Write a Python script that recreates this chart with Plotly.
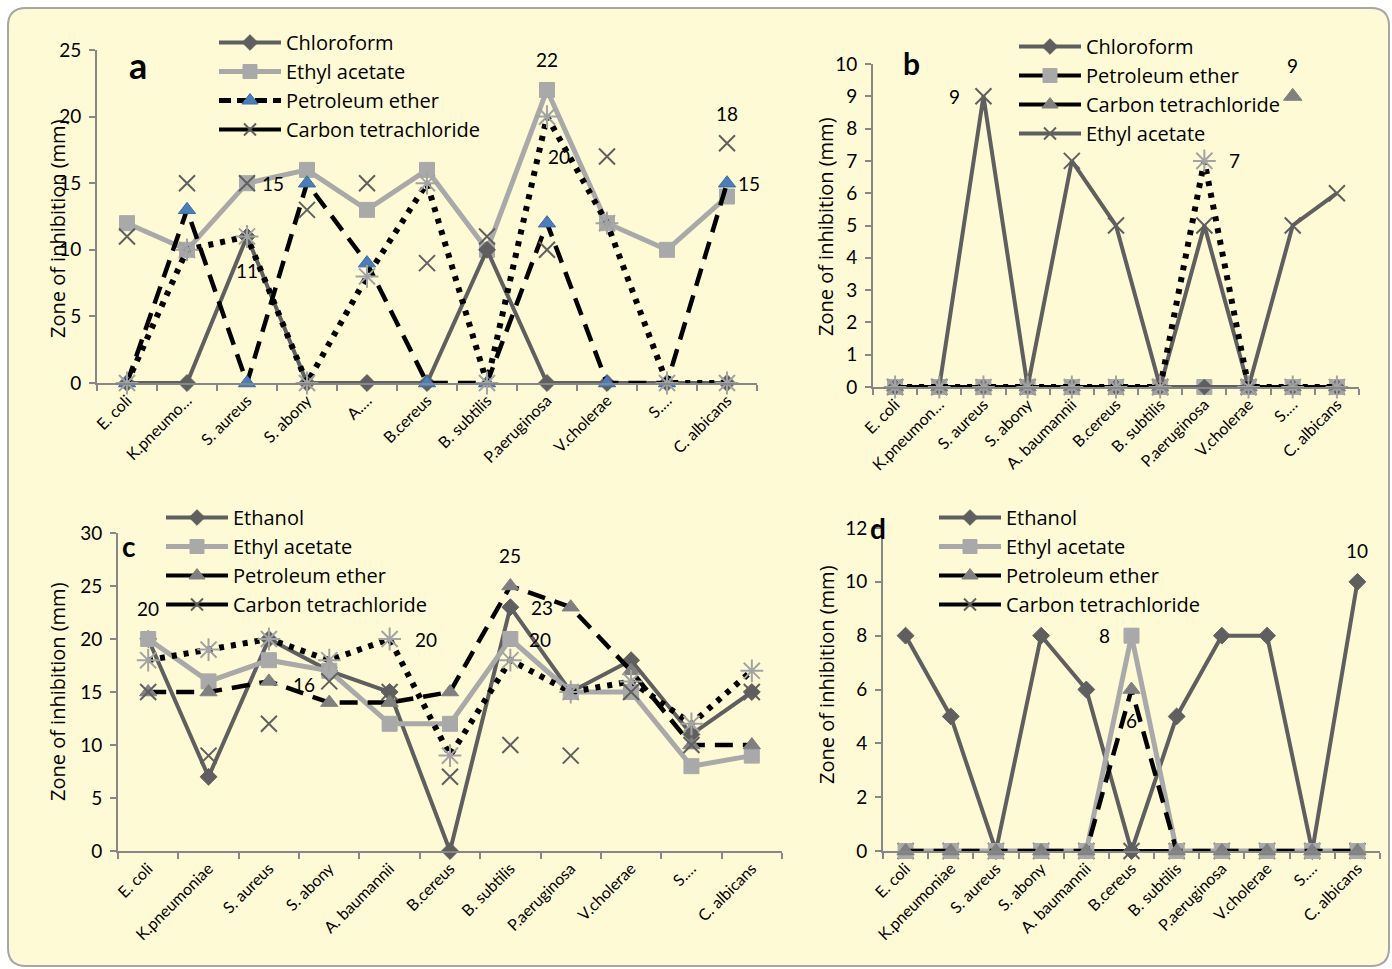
import plotly.graph_objects as go

W, H = 1392, 969
FONT = "Lato"
FONT2 = "Open Sans"

# ---------------- data ----------------
categories = ["E. coli", "K. pneumoniae", "S. aureus", "S. abony", "A. baumannii", "B. cereus",
              "B. subtilis", "P. aeruginosa", "V. cholerae", "S. …", "C. albicans"]
ticks_a = ["E. coli", "K.pneumo…", "S. aureus", "S. abony", "A.…", "B.cereus", "B. subtilis",
           "P.aeruginosa", "V.cholerae", "S.…", "C. albicans"]
ticks_b = ["E. coli", "K.pneumon…", "S. aureus", "S. abony", "A. baumannii", "B.cereus", "B. subtilis",
           "P.aeruginosa", "V.cholerae", "S.…", "C. albicans"]
ticks_cd = ["E. coli", "K.pneumoniae", "S. aureus", "S. abony", "A. baumannii", "B.cereus", "B. subtilis",
            "P.aeruginosa", "V.cholerae", "S.…", "C. albicans"]

# Panel a
a_chloroform = [0, 0, 11, 0, 0, 0, 10, 0, 0, 0, 0]
a_ethyl_acetate = [12, 10, 15, 16, 13, 16, 10, 22, 12, 10, 14]
a_petroleum_ether = [0, 13, 0, 15, 9, 0, 0, 12, 0, 0, 15]
a_carbon_tet = [0, 10, 11, 0, 8, 15, 0, 20, 12, 0, 0]
a_carbon_tet_x = [11, 15, 15, 13, 15, 9, 11, 10, 17, None, 18]

# Panel b
b_chloroform = [0, 0, 0, 0, 0, 0, 0, 0, 0, 0, 0]
b_petroleum_ether = [0, 0, 0, 0, 0, 0, 0, 0, 0, 0, 0]
b_carbon_tet = [0, 0, 0, 0, 0, 0, 0, None, 0, 0, 0]
b_ethyl_acetate = [0, 0, 9, 0, 7, 5, 0, 5, 0, 5, 6]
b_dotted = [0, 0, 0, 0, 0, 0, 0, 7, 0, 0, 0]
b_extra = [None, None, None, None, None, None, None, None, None, 9, None]

# Panel c
c_ethanol = [20, 7, 20, 17, 15, 0, 23, 15, 18, 11, 15]
c_ethyl_acetate = [20, 16, 18, 17, 12, 12, 20, 15, 15, 8, 9]
c_petroleum_ether = [15, 15, 16, 14, 14, 15, 25, 23, 17, 10, 10]
c_carbon_tet = [18, 19, 20, 18, 20, 9, 18, 15, 16, 12, 17]
c_carbon_tet_x = [15, 9, 12, 16, 15, 7, 10, 9, 15, 10, 15]

# Panel d
d_ethanol = [8, 5, 0, 8, 6, 0, 5, 8, 8, 0, 10]
d_ethyl_acetate = [0, 0, 0, 0, 0, 8, 0, 0, 0, 0, 0]
d_petroleum_ether = [0, 0, 0, 0, 0, 6, 0, 0, 0, 0, 0]
d_carbon_tet = [0, 0, 0, 0, 0, 0, 0, 0, 0, 0, 0]

# data labels: (category, value, text)
labels_a = [("S. aureus", 15, "15"), ("S. aureus", 11, "11"), ("P. aeruginosa", 22, "22"),
            ("P. aeruginosa", 20, "20"), ("C. albicans", 18, "18"), ("C. albicans", 15, "15")]
labels_b = [("S. aureus", 9, "9"), ("P. aeruginosa", 7, "7"), ("S. …", 9, "9")]
labels_c = [("E. coli", 20, "20"), ("S. aureus", 16, "16"), ("A. baumannii", 20, "20"),
            ("B. subtilis", 25, "25"), ("B. subtilis", 23, "23"), ("B. subtilis", 20, "20")]
labels_d = [("B. cereus", 8, "8"), ("B. cereus", 6, "6"), ("C. albicans", 10, "10")]

# label placements (pixel shifts)
place_a = [(26, 0), (0, -34), (0, 30), (12, -40), (0, 30), (22, 0)]
place_b = [(-29, 0), (30, 0), (0, 31)]
place_c = [(0, 31), (35, -3), (36, 0), (0, 31), (32, 0), (30, 0)]
place_d = [(-27, 0), (0, -31), (0, 31)]

# ---------------- styles ----------------
DARK = "#5f5f5f"
LIGHT = "#a9a9a9"
BLACK = "#000000"
BLUE = "#4a7ebb"
MID = "#808080"
AST = "#a3a3a3"
DASH = "18px,10px"
DOT = "5px,7px"


def px(x):
    return x / W


def py(y):
    return 1 - y / H


fig = go.Figure()


def trace(y, ax, color=None, width=4, dash="solid", symbol=None, msize=14, mcolor=None,
          mline=None, mlw=1, mode="lines+markers"):
    xa, ya = ax
    marker = dict(symbol=symbol, size=msize, color=mcolor,
                  line=dict(color=mline if mline else mcolor, width=mlw))
    fig.add_trace(go.Scatter(
        x=categories, y=y, xaxis=xa, yaxis=ya, mode=mode,
        line=dict(color=color, width=width, dash=dash) if "lines" in mode else None,
        marker=marker, showlegend=False, hoverinfo="skip", connectgaps=False, cliponaxis=False))


def legend_entry(name, ax, legend, color, width, dash, symbol, msize, mcolor, mline=None, mlw=1):
    xa, ya = ax
    fig.add_trace(go.Scatter(
        x=[None], y=[None], xaxis=xa, yaxis=ya, mode="lines+markers", name=name,
        line=dict(color=color, width=width, dash=dash),
        marker=dict(symbol=symbol, size=msize, color=mcolor,
                    line=dict(color=mline if mline else mcolor, width=mlw)),
        legend=legend, legendgroup=legend + name, showlegend=True, hoverinfo="skip"))


A = ("x", "y")
B = ("x2", "y2")
C = ("x3", "y3")
D = ("x4", "y4")

# ---- panel a ----
trace(a_ethyl_acetate, A, LIGHT, 5, "solid", "square", 15, LIGHT)
trace(a_chloroform, A, DARK, 4, "solid", "diamond", 13, DARK)
trace(a_petroleum_ether, A, BLACK, 4.5, DASH, "triangle-up", 15, BLUE, "#3d6aa0")
trace(a_carbon_tet, A, BLACK, 6, DOT, "asterisk-open", 19, AST, AST, 2)
trace(a_carbon_tet_x, A, mode="markers", symbol="x-thin-open", msize=16, mcolor=DARK, mlw=2)

legend_entry("Chloroform", A, "legend", DARK, 4, "solid", "diamond", 12, DARK)
legend_entry("Ethyl acetate", A, "legend", LIGHT, 5, "solid", "square", 14, LIGHT)
legend_entry("Petroleum ether", A, "legend", BLACK, 5, "12px,6px", "triangle-up", 14, BLUE, "#3d6aa0")
legend_entry("Carbon tetrachloride", A, "legend", BLACK, 4, "solid", "x-thin-open", 12, DARK, DARK, 2)

# ---- panel b ----
trace(b_petroleum_ether, B, BLACK, 4, "solid", "square", 15, LIGHT)
trace(b_chloroform, B, DARK, 4, "solid", "diamond", 12, DARK)
trace(b_ethyl_acetate, B, DARK, 4, "solid", "x-thin-open", 16, DARK, DARK, 2)
trace(b_carbon_tet, B, BLACK, 4, "solid", "triangle-up", 15, MID)
trace(b_dotted, B, BLACK, 6, DOT, "asterisk-open", 19, AST, AST, 2)
trace(b_extra, B, mode="markers", symbol="triangle-up", msize=16, mcolor=MID)

legend_entry("Chloroform", B, "legend2", DARK, 4, "solid", "diamond", 12, DARK)
legend_entry("Petroleum ether", B, "legend2", BLACK, 4, "solid", "square", 14, LIGHT)
legend_entry("Carbon tetrachloride", B, "legend2", BLACK, 4, "solid", "triangle-up", 14, MID)
legend_entry("Ethyl acetate", B, "legend2", DARK, 4, "solid", "x-thin-open", 12, DARK, DARK, 2)

# ---- panel c ----
trace(c_ethanol, C, DARK, 4, "solid", "diamond", 13, DARK)
trace(c_ethyl_acetate, C, LIGHT, 5, "solid", "square", 15, LIGHT)
trace(c_petroleum_ether, C, BLACK, 4.5, DASH, "triangle-up", 15, MID)
trace(c_carbon_tet, C, BLACK, 6, DOT, "asterisk-open", 19, AST, AST, 2)
trace(c_carbon_tet_x, C, mode="markers", symbol="x-thin-open", msize=16, mcolor=DARK, mlw=2)

legend_entry("Ethanol", C, "legend3", DARK, 4, "solid", "diamond", 12, DARK)
legend_entry("Ethyl acetate", C, "legend3", LIGHT, 5, "solid", "square", 14, LIGHT)
legend_entry("Petroleum ether", C, "legend3", BLACK, 4, "solid", "triangle-up", 14, MID)
legend_entry("Carbon tetrachloride", C, "legend3", BLACK, 4, "solid", "x-thin-open", 12, DARK, DARK, 2)

# ---- panel d ----
trace(d_carbon_tet, D, BLACK, 4, "solid", "x-thin-open", 16, DARK, DARK, 2)
trace(d_ethanol, D, DARK, 4, "solid", "diamond", 13, DARK)
trace(d_ethyl_acetate, D, LIGHT, 5, "solid", "square", 15, LIGHT)
trace(d_petroleum_ether, D, BLACK, 4.5, DASH, "triangle-up", 15, MID)

legend_entry("Ethanol", D, "legend4", DARK, 4, "solid", "diamond", 12, DARK)
legend_entry("Ethyl acetate", D, "legend4", LIGHT, 5, "solid", "square", 14, LIGHT)
legend_entry("Petroleum ether", D, "legend4", BLACK, 4, "solid", "triangle-up", 14, MID)
legend_entry("Carbon tetrachloride", D, "legend4", BLACK, 4, "solid", "x-thin-open", 12, DARK, DARK, 2)

# ---------------- axes ----------------
AXC = "#878787"


def xaxis(dom, anchor, ticktext):
    return dict(domain=dom, anchor=anchor, type="category", categoryorder="array",
                categoryarray=categories, tickvals=categories, ticktext=ticktext,
                range=[-0.5, 10.5], tickangle=-45, showline=True, linecolor=AXC, linewidth=2,
                ticks="outside", tickson="boundaries", ticklen=6, tickcolor=AXC, tickwidth=1.5,
                showgrid=False, zeroline=False, tickfont=dict(family=FONT, size=16, color="black"),
                fixedrange=True, automargin=False)


def yaxis(dom, anchor, rng, dtick):
    return dict(domain=dom, anchor=anchor, range=rng, dtick=dtick, showline=True, linecolor=AXC,
                linewidth=2, ticks="outside", ticklen=6, tickcolor=AXC, tickwidth=1.5,
                showgrid=False, zeroline=False, ticklabelstandoff=4,
                tickfont=dict(family=FONT, size=19, color="black"), fixedrange=True, automargin=False)


layout = dict(
    width=W, height=H, autosize=False, margin=dict(l=0, r=0, t=0, b=0, pad=0, autoexpand=False),
    paper_bgcolor="white", plot_bgcolor="rgba(0,0,0,0)",
    font=dict(family=FONT, color="black"),
    xaxis=xaxis([px(97), px(757)], "y", ticks_a),
    yaxis=yaxis([py(383), py(50)], "x", [0, 25], 5),
    xaxis2=xaxis([px(873), px(1359)], "y2", ticks_b),
    yaxis2=yaxis([py(387), py(64)], "x2", [0, 10], 1),
    xaxis3=xaxis([px(118), px(782)], "y3", ticks_cd),
    yaxis3=yaxis([py(851), py(533)], "x3", [0, 30], 5),
    xaxis4=xaxis([px(883), px(1380)], "y4", ticks_cd),
    yaxis4=yaxis([py(851), py(528)], "x4", [0, 12], 2),
)

leg_common = dict(xanchor="left", yanchor="top", bgcolor="rgba(0,0,0,0)", borderwidth=0,
                  font=dict(family=FONT2, size=20, color="black"), tracegroupgap=0,
                  itemwidth=62, itemsizing="trace")
layout["legend"] = dict(x=px(214), y=py(23), **leg_common)
layout["legend2"] = dict(x=px(1014), y=py(27), **leg_common)
layout["legend3"] = dict(x=px(161), y=py(498), **leg_common)
layout["legend4"] = dict(x=px(934), y=py(498), **leg_common)

# background panel with rounded corners
x0, x1, y0, y1 = px(8), px(1389), py(8), py(966)
rx, ry = 18 / W, 18 / H
path = (f"M {x0 + rx},{y0} L {x1 - rx},{y0} Q {x1},{y0} {x1},{y0 - ry} "
        f"L {x1},{y1 + ry} Q {x1},{y1} {x1 - rx},{y1} L {x0 + rx},{y1} Q {x0},{y1} {x0},{y1 + ry} "
        f"L {x0},{y0 - ry} Q {x0},{y0} {x0 + rx},{y0} Z")
layout["shapes"] = [dict(type="path", path=path, xref="paper", yref="paper", layer="below",
                         fillcolor="#fffad6", line=dict(color="#a6a6a6", width=2))]

annotations = []
for labels, places, (xa, ya) in [(labels_a, place_a, A), (labels_b, place_b, B),
                                 (labels_c, place_c, C), (labels_d, place_d, D)]:
    for (cat, val, txt), (dx, dy) in zip(labels, places):
        annotations.append(dict(x=cat, y=val, xref=xa, yref=ya, text=txt, showarrow=False,
                                xanchor="center", yanchor="middle",
                                xshift=dx, yshift=dy, font=dict(family=FONT, size=19, color="black")))

# panel letters
for letter, x, y, size in [("a", 138, 65, 36), ("b", 911, 63, 30), ("c", 129, 546, 28), ("d", 878, 528, 28)]:
    annotations.append(dict(x=px(x), y=py(y), xref="paper", yref="paper", text=f"<b>{letter}</b>",
                            xanchor="center", yanchor="middle",
                            showarrow=False, font=dict(family=FONT, size=size, color="black")))

# y-axis titles
for x, y in [(57, 229), (826, 226), (57, 692), (826, 674)]:
    annotations.append(dict(x=px(x), y=py(y), xref="paper", yref="paper", text="Zone of inhibition (mm)",
                            xanchor="center", yanchor="middle",
                            textangle=-90, showarrow=False, font=dict(family=FONT2, size=20, color="black")))

layout["annotations"] = annotations
fig.update_layout(**layout)
fig.write_html("out.html", config={"displayModeBar": False},
               post_script="document.body.style.margin='0';document.body.style.overflow='hidden';")
